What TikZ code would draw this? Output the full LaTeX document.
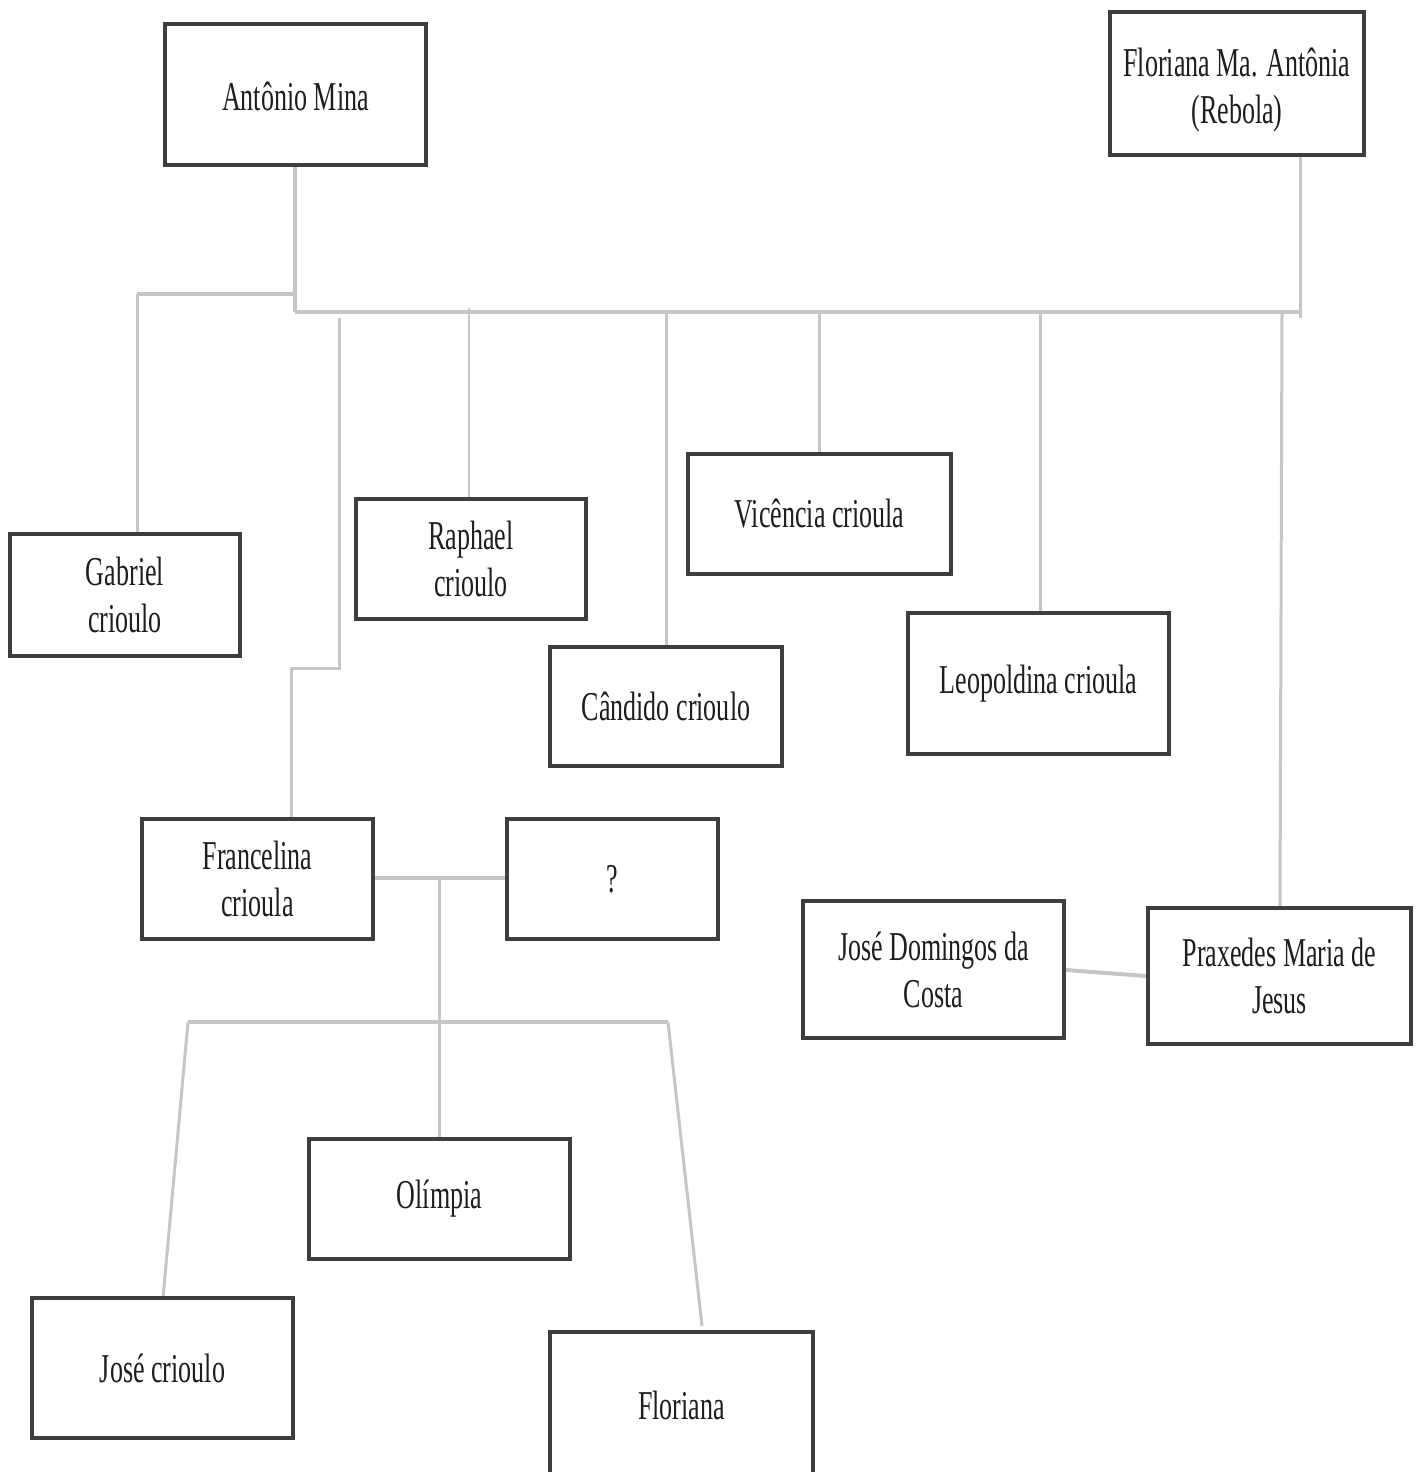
\documentclass[tikz,border=0pt]{standalone}
\usepackage{fontspec}
\setmainfont[FakeStretch=0.635]{Liberation Serif}
\definecolor{boxc}{HTML}{3E3E3E}
\definecolor{linec}{HTML}{C6C6C6}
\definecolor{textc}{HTML}{1E1E1E}
\tikzset{
  box/.style={draw=boxc, line width=4pt, rectangle, inner sep=0pt, align=center,
    text=textc, font=\fontsize{41}{47}\selectfont, fill=white},
  conn/.style={draw=linec, line width=4pt},
  connthin/.style={draw=linec, line width=3pt},
}
\begin{document}
\begin{tikzpicture}[x=1pt,y=-1pt]
\useasboundingbox (0,0) rectangle (1423,1472);
% coordinates
\coordinate (top) at (295,312);
\coordinate (tr) at (1300,312);
\coordinate (trb) at (1300,318);
\coordinate (gj) at (295,294);
\coordinate (gk) at (137,294);
\coordinate (f1) at (339,318);
\coordinate (f2) at (339,668);
\coordinate (f3) at (291,668);
\coordinate (r1) at (469,308);
\coordinate (c1) at (666,312);
\coordinate (v1) at (819,312);
\coordinate (l1) at (1040,312);
\coordinate (p1) at (1282,312);
\coordinate (m1) at (439,878);
\coordinate (m2) at (439,1026);
\coordinate (h1) at (188,1022);
\coordinate (h2) at (439,1022);
\coordinate (h3) at (668,1022);
\coordinate (fe) at (702,1326);
% connectors (drawn first, boxes on top)
\draw[conn] (top) -- (tr);
\draw[conn] (gj) -- (gk);
\draw[connthin] (gk) -- (137,534);
\draw[connthin] (f1) -- (f2) -- (f3) -- (291,819);
\draw[draw=linec, line width=2.5pt] (r1) -- (469,499);
\draw[connthin] (c1) -- (666,647);
\draw[connthin] (v1) -- (819,454);
\draw[connthin] (l1) -- (1040,613);
\draw[connthin] (p1) -- (1280,908);
\draw[connthin] (trb) -- (1300,157);
\draw[conn] (295,167) -- (top);
\draw[conn] (375,878) -- (505,878);
\draw[connthin] (m1) -- (m2);
\draw[conn] (h1) -- (h3);
\draw[connthin] (h1) -- (163,1298);
\draw[connthin] (h2) -- (439,1139);
\draw[connthin] (h3) -- (fe);
\draw[conn] (1066,970) -- (1146,976);
% boxes
\node[box, minimum width=261pt, minimum height=141pt] (mina) at (295.5,94.5) {\raisebox{-2pt}[\height][\depth]{Antônio Mina}};
\node[box, minimum width=254pt, minimum height=143pt] (flor) at (1237,83.5) {\raisebox{-7pt}[\height][\depth]{\begin{tabular}{@{}c@{}}Floriana Ma. Antônia\\(Rebola)\end{tabular}}};
\node[box, minimum width=230pt, minimum height=122pt] (gab) at (125,595) {Gabriel\\crioulo};
\node[box, minimum width=230pt, minimum height=120pt] (raph) at (471,559) {Raphael\\crioulo};
\node[box, minimum width=263pt, minimum height=120pt] (vic) at (819.5,514) {Vicência crioula};
\node[box, minimum width=232pt, minimum height=119pt] (cand) at (666,706.5) {Cândido crioulo};
\node[box, minimum width=261pt, minimum height=141pt] (leo) at (1038.5,683.5) {Leopoldina crioula};
\node[box, minimum width=231pt, minimum height=120pt] (franc) at (257.5,879) {Francelina\\crioula};
\node[box, minimum width=211pt, minimum height=120pt] (unk) at (612.5,879) {?};
\node[box, minimum width=261pt, minimum height=137pt] (jdc) at (933.5,969.5) {José Domingos da\\Costa};
\node[box, minimum width=263pt, minimum height=136pt] (prax) at (1279.5,976) {Praxedes Maria de\\Jesus};
\node[box, minimum width=261pt, minimum height=120pt] (oli) at (439.5,1199) {Olímpia};
\node[box, minimum width=261pt, minimum height=140pt] (jose) at (162.5,1368) {José crioulo};
\node[box, minimum width=263pt, minimum height=146pt] (flo2) at (681.5,1405) {Floriana};
\end{tikzpicture}
\end{document}
